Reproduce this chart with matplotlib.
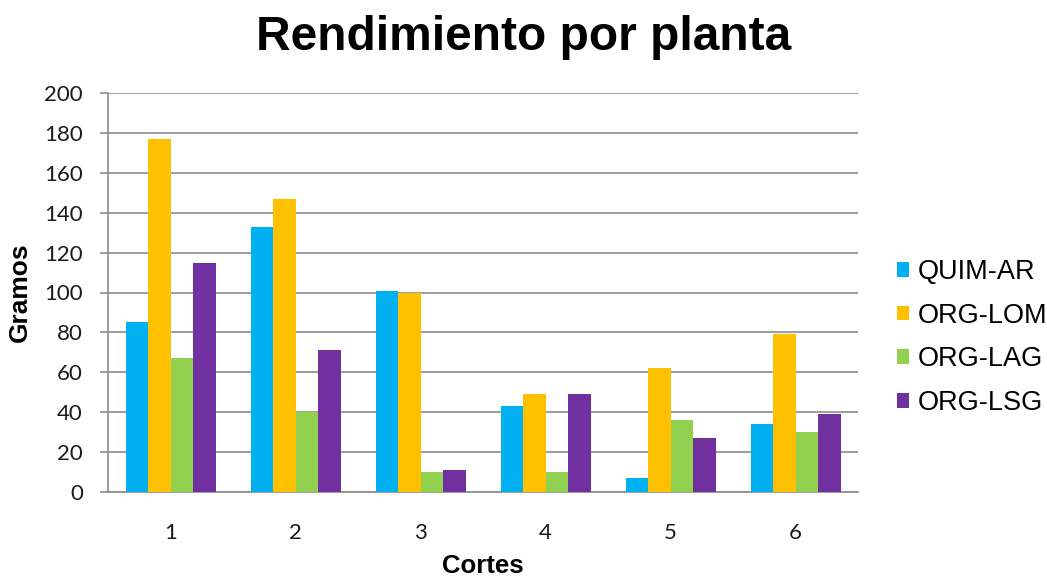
import matplotlib
matplotlib.use("Agg")
import matplotlib.pyplot as plt
import numpy as np

categories = ["1", "2", "3", "4", "5", "6"]
series_names = ["QUIM-AR", "ORG-LOM", "ORG-LAG", "ORG-LSG"]
quim_ar = [85, 133, 101, 43, 7, 34]
org_lom = [177, 147, 100, 49, 62, 79]
org_lag = [67, 40, 10, 10, 36, 30]
org_lsg = [115, 71, 11, 49, 27, 39]
colors = ["#00B0F0", "#FFC000", "#92D050", "#7030A0"]
yticks = [0, 20, 40, 60, 80, 100, 120, 140, 160, 180, 200]

fig = plt.figure(figsize=(10.47, 5.76), dpi=100)
ax = fig.add_axes([108/1047, 1-492/576, 750/1047, 399/576])

x = np.arange(1, len(categories)+1)
w = 0.18
data = [quim_ar, org_lom, org_lag, org_lsg]
for i, (vals, name, c) in enumerate(zip(data, series_names, colors)):
    ax.bar(x + (i-1.5)*w, vals, width=w, color=c, label=name, zorder=3)

ax.set_xlim(0.5, 6.5)
ax.set_ylim(0, 200)
ax.set_yticks(yticks)
ax.set_xticks(x)
ax.set_xticklabels(categories)
ax.yaxis.grid(True, color="#8C8C8C", linewidth=1.2, zorder=0)
for s in ["top", "right"]:
    ax.spines[s].set_visible(False)
ax.spines["left"].set_color("#8C8C8C")
ax.spines["bottom"].set_color("#8C8C8C")
ax.spines["left"].set_linewidth(1.2)
ax.spines["bottom"].set_linewidth(1.2)
ax.tick_params(axis="y", length=6, color="#8C8C8C", width=1.2, pad=12)
ax.tick_params(axis="x", length=0, pad=22)
for lab in ax.get_xticklabels() + ax.get_yticklabels():
    lab.set_fontfamily("Lato")
    lab.set_fontsize(16)
    lab.set_color("#1a1a1a")

ax.set_ylabel("Gramos", fontsize=19, fontweight="bold", family="Liberation Sans")
ax.yaxis.set_label_coords(-0.101, 0.5)
ax.set_xlabel("Cortes", fontsize=18.5, fontweight="bold", family="Liberation Sans")
ax.xaxis.set_label_coords(0.5, -0.155)
fig.text(0.5, 1-50/576, "Rendimiento por planta", ha="center", va="baseline",
         fontsize=34.5, fontweight="bold", family="Liberation Sans")

leg = fig.legend(loc="center left", bbox_to_anchor=(897/1047, 0.414), frameon=False,
                 prop={"family": "Liberation Sans", "size": 19.5},
                 handlelength=0.45, handleheight=0.45, handletextpad=0.3,
                 labelspacing=0.65, borderpad=0, borderaxespad=0)

fig.savefig("out.png", dpi=100)
